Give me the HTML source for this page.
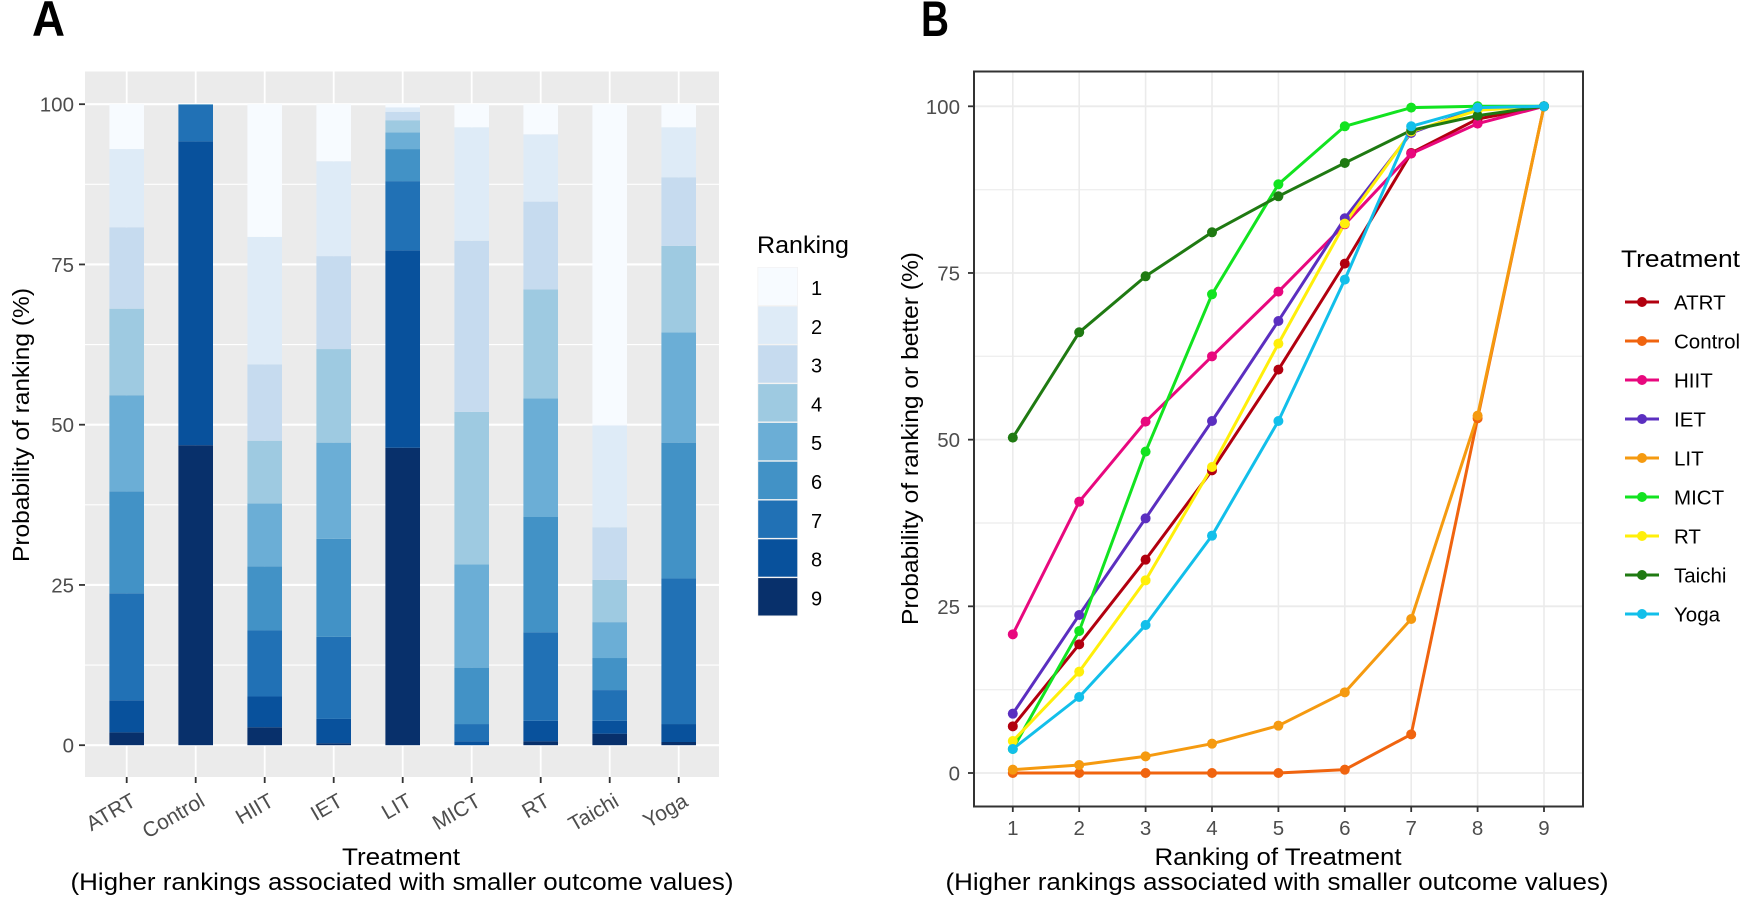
<!DOCTYPE html>
<html lang="en">
<head>
<meta charset="utf-8">
<title>Treatment ranking probabilities</title>
<style>
  html, body { margin: 0; padding: 0; background: #fff; }
  svg { display: block; font-family: "Liberation Sans", Arial, sans-serif; }
</style>
</head>
<body>
<svg id="figure" xmlns="http://www.w3.org/2000/svg" width="1750" height="909" viewBox="0 0 1750 909">
  <rect width="1750" height="909" fill="#ffffff"/>
  <text x="32" y="36" font-size="50" font-weight="bold" textLength="33" lengthAdjust="spacingAndGlyphs" fill="#000">A</text>
  <text x="921" y="36" font-size="50" font-weight="bold" textLength="28" lengthAdjust="spacingAndGlyphs" fill="#000">B</text>

  <g id="panelA">
    <rect x="85" y="71.5" width="634" height="705.5" fill="#EBEBEB"/>
    <g id="gridA"></g>
    <g id="barsA"></g>
    <g id="axesA"></g>
    <text transform="translate(29,425) rotate(-90)" text-anchor="middle" font-size="23" textLength="274" lengthAdjust="spacingAndGlyphs" fill="#000">Probability of ranking (%)</text>
    <text x="401" y="865" text-anchor="middle" font-size="24.5" textLength="118" lengthAdjust="spacingAndGlyphs" fill="#000">Treatment</text>
    <text x="402" y="890" text-anchor="middle" font-size="24.5" textLength="663" lengthAdjust="spacingAndGlyphs" fill="#000">(Higher rankings associated with smaller outcome values)</text>
    <text x="757" y="253" font-size="24.5" textLength="92" lengthAdjust="spacingAndGlyphs" fill="#000">Ranking</text>
    <g id="legendA"></g>
  </g>

  <g id="panelB">
    <g id="gridB"></g>
    <g id="linesB"></g>
    <rect x="974" y="71.5" width="609" height="735" fill="none" stroke="#333333" stroke-width="2"/>
    <g id="axesB"></g>
    <text transform="translate(918,438.5) rotate(-90)" text-anchor="middle" font-size="23" textLength="373" lengthAdjust="spacingAndGlyphs" fill="#000">Probability of ranking or better (%)</text>
    <text x="1278" y="865" text-anchor="middle" font-size="24.5" textLength="247" lengthAdjust="spacingAndGlyphs" fill="#000">Ranking of Treatment</text>
    <text x="1277" y="890" text-anchor="middle" font-size="24.5" textLength="663" lengthAdjust="spacingAndGlyphs" fill="#000">(Higher rankings associated with smaller outcome values)</text>
    <text x="1621" y="267" font-size="24.5" textLength="119" lengthAdjust="spacingAndGlyphs" fill="#000">Treatment</text>
    <g id="legendB"></g>
  </g>
</svg>

<script>
/* ---------- Chart data ---------- */
var treatments = ['ATRT', 'Control', 'HIIT', 'IET', 'LIT', 'MICT', 'RT', 'Taichi', 'Yoga'];
var rankings = [1, 2, 3, 4, 5, 6, 7, 8, 9];
var probabilityTicks = [0, 25, 50, 75, 100];
var probabilityMinorTicks = [12.5, 37.5, 62.5, 87.5];

/* Panel A: probability (%) of each rank 1..9, per treatment */
var atrtShare    = [7.0, 12.2, 12.7, 13.5, 15.0, 15.9, 16.7, 5.0, 2.0];
var controlShare = [0, 0, 0, 0, 0, 0.1, 5.7, 47.4, 46.8];
var hiitShare    = [20.7, 19.9, 11.9, 9.8, 9.8, 10.0, 10.3, 4.8, 2.8];
var ietShare     = [8.9, 14.8, 14.5, 14.6, 15.0, 15.3, 12.8, 3.8, 0.3];
var litShare     = [0.5, 0.7, 1.3, 1.9, 2.6, 5.0, 10.8, 30.8, 46.4];
var mictShare    = [3.6, 17.7, 26.7, 23.8, 16.1, 8.8, 2.7, 0.6, 0];
var rtShare      = [4.7, 10.5, 13.7, 17.0, 18.5, 18.0, 13.8, 3.2, 0.6];
var taichiShare  = [50.1, 15.9, 8.2, 6.6, 5.6, 5.0, 4.8, 2.0, 1.8];
var yogaShare    = [3.6, 7.8, 10.7, 13.5, 17.2, 21.2, 22.7, 2.8, 0.5];

/* Panel B: probability (%) of ranking or better, per treatment */
var atrtCumulative    = [7.0, 19.3, 32.0, 45.4, 60.5, 76.4, 93.0, 98.1, 100];
var controlCumulative = [0, 0, 0, 0, 0, 0.5, 5.8, 53.2, 100];
var hiitCumulative    = [20.8, 40.7, 52.7, 62.5, 72.2, 82.3, 92.9, 97.4, 100];
var ietCumulative     = [8.9, 23.7, 38.2, 52.8, 67.8, 83.2, 96.0, 99.7, 100];
var litCumulative     = [0.5, 1.2, 2.5, 4.4, 7.1, 12.1, 23.1, 53.6, 100];
var mictCumulative    = [3.6, 21.3, 48.2, 71.8, 88.3, 97.0, 99.8, 100, 100];
var rtCumulative      = [4.8, 15.2, 28.9, 45.9, 64.4, 82.4, 96.2, 99.4, 100];
var taichiCumulative  = [50.3, 66.1, 74.5, 81.1, 86.5, 91.5, 96.4, 98.6, 100];
var yogaCumulative    = [3.6, 11.4, 22.2, 35.6, 52.8, 74.0, 97.0, 99.8, 100];

var rankColors = ['#F7FBFF', '#DEEBF7', '#C6DBEF', '#9ECAE1', '#6BAED6', '#4292C6', '#2171B5', '#08519C', '#08306B'];
var treatmentColors = ['#B2000F', '#F0640F', '#E8087E', '#5B2FC0', '#F59A10', '#12E320', '#FFEF0A', '#1F7A12', '#12BFEA'];

var shareSeries = [atrtShare, controlShare, hiitShare, ietShare, litShare, mictShare, rtShare, taichiShare, yogaShare];
var cumulativeSeries = [atrtCumulative, controlCumulative, hiitCumulative, ietCumulative, litCumulative, mictCumulative, rtCumulative, taichiCumulative, yogaCumulative];

/* ---------- Axis functions ---------- */
function xA(index) { return 126.7 + index * 69.0; }
function yA(value) { return 745.2 - value * 6.41; }
function xB(rank) { return 1012.8 + (rank - 1) * 66.4; }
function yB(value) { return 773 - value * 6.667; }

var SVG_NS = 'http://www.w3.org/2000/svg';
function make(tag, parentId, attrs, content) {
  var el = document.createElementNS(SVG_NS, tag);
  for (var key in attrs) { el.setAttribute(key, attrs[key]); }
  if (content !== undefined) { el.textContent = content; }
  document.getElementById(parentId).appendChild(el);
  return el;
}
function slug(s) { return String(s).toLowerCase(); }
var el;

/* ---------- Panel A ---------- */
probabilityMinorTicks.forEach(function (v) {
  el = make('line', 'gridA', { x1: 85, x2: 719, y1: yA(v), y2: yA(v), stroke: '#ffffff', 'stroke-width': 1.2 });
  
  
});
probabilityTicks.forEach(function (v) {
  el = make('line', 'gridA', { x1: 85, x2: 719, y1: yA(v), y2: yA(v), stroke: '#ffffff', 'stroke-width': 2.2 });
  
  

  el = make('line', 'axesA', { x1: 79, x2: 85, y1: yA(v), y2: yA(v), stroke: '#333333', 'stroke-width': 1.8 });
  
  

  el = make('text', 'axesA', { x: 74, y: yA(v) + 7.5, 'text-anchor': 'end', 'font-size': 20.5, fill: '#4D4D4D' }, v);
  
  
});

treatments.forEach(function (name, i) {
  el = make('line', 'gridA', { x1: xA(i), x2: xA(i), y1: 71.5, y2: 777, stroke: '#ffffff', 'stroke-width': 1.8 });
  
  

  el = make('line', 'axesA', { x1: xA(i), x2: xA(i), y1: 777, y2: 783, stroke: '#333333', 'stroke-width': 1.8 });
  
  

  el = make('text', 'axesA', {
    transform: 'translate(' + (xA(i) + 10.5) + ',805) rotate(-30)',
    'text-anchor': 'end', 'font-size': 21, fill: '#4D4D4D'
  }, name);
  
  

  /* stack from rank 9 at the bottom up to rank 1 at the top */
  var base = 0;
  for (var r = rankings.length - 1; r >= 0; r--) {
    var share = shareSeries[i][r];
    el = make('rect', 'barsA', {
      x: xA(i) - 17.3, width: 34.6,
      y: yA(base + share), height: yA(base) - yA(base + share),
      fill: rankColors[r]
    });
    
    
    base += share;
  }
});

rankings.forEach(function (rank, i) {
  var keyTop = 267 + i * 38.8;
  el = make('rect', 'legendA', { x: 757.5, y: keyTop, width: 40.5, height: 38.8, fill: '#F2F2F2' });
  
  

  el = make('rect', 'legendA', { x: 758.2, y: keyTop + 0.7, width: 39.1, height: 37.4, fill: rankColors[i] });
  
  

  el = make('text', 'legendA', { x: 811, y: keyTop + 28, 'font-size': 20, fill: '#000000' }, rank);
  
  
});

/* ---------- Panel B ---------- */
probabilityMinorTicks.forEach(function (v) {
  el = make('line', 'gridB', { x1: 974, x2: 1583, y1: yB(v), y2: yB(v), stroke: '#EFEFEF', 'stroke-width': 1.4 });
  
  
});
probabilityTicks.forEach(function (v) {
  el = make('line', 'gridB', { x1: 974, x2: 1583, y1: yB(v), y2: yB(v), stroke: '#EBEBEB', 'stroke-width': 1.8 });
  
  

  el = make('line', 'axesB', { x1: 968, x2: 974, y1: yB(v), y2: yB(v), stroke: '#333333', 'stroke-width': 1.8 });
  
  

  el = make('text', 'axesB', { x: 960, y: yB(v) + 7.5, 'text-anchor': 'end', 'font-size': 20.5, fill: '#4D4D4D' }, v);
  
  
});
rankings.forEach(function (rank) {
  el = make('line', 'gridB', { x1: xB(rank), x2: xB(rank), y1: 71.5, y2: 806, stroke: '#EBEBEB', 'stroke-width': 1.6 });
  
  

  el = make('line', 'axesB', { x1: xB(rank), x2: xB(rank), y1: 806, y2: 812, stroke: '#333333', 'stroke-width': 1.8 });
  
  

  el = make('text', 'axesB', { x: xB(rank), y: 835, 'text-anchor': 'middle', 'font-size': 20.5, fill: '#4D4D4D' }, rank);
  
  
});

treatments.forEach(function (name, i) {
  var pts = cumulativeSeries[i].map(function (v, r) {
    return xB(rankings[r]) + ',' + yB(v);
  }).join(' ');
  el = make('polyline', 'linesB', { points: pts, fill: 'none', stroke: treatmentColors[i], 'stroke-width': 3, 'stroke-linejoin': 'round' });
  
  
});
treatments.forEach(function (name, i) {
  cumulativeSeries[i].forEach(function (v, r) {
    el = make('circle', 'linesB', { cx: xB(rankings[r]), cy: yB(v), r: 5, fill: treatmentColors[i] });
    
    
  });

  var keyY = 302 + i * 39;
  el = make('line', 'legendB', { x1: 1625, x2: 1659, y1: keyY, y2: keyY, stroke: treatmentColors[i], 'stroke-width': 3 });
  
  

  el = make('circle', 'legendB', { cx: 1642, cy: keyY, r: 5, fill: treatmentColors[i] });
  
  

  el = make('text', 'legendB', { x: 1674, y: keyY + 7.5, 'font-size': 20.5, fill: '#000000' }, name);
  
  
});
</script>
</body>
</html>
